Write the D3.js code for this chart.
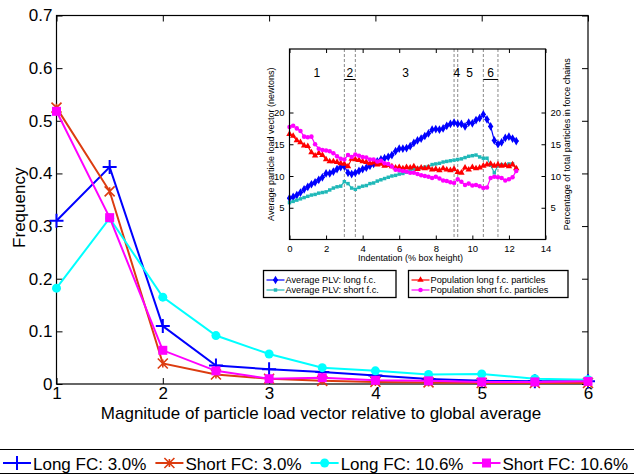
<!DOCTYPE html>
<html>
<head>
<meta charset="utf-8">
<script src="https://cdn.jsdelivr.net/npm/d3@7"></script>
<style>
  body { margin: 0; background: #fff; }
  svg { font-family: "Liberation Sans", Arial, sans-serif; }
</style>
</head>
<body>
<div id="chart"></div>
<script>
// main chart data
var magnitude = [1, 1.5, 2, 2.5, 3, 3.5, 4, 4.5, 5, 5.5, 6];
var longFC30 = [0.31, 0.412, 0.11, 0.035, 0.028, 0.023, 0.016, 0.0095, 0.006, 0.005, 0.005];
var shortFC30 = [0.525, 0.366, 0.039, 0.018, 0.010, 0.006, 0.004, 0.003, 0.002, 0.002, 0.002];
var longFC106 = [0.182, 0.315, 0.165, 0.092, 0.057, 0.031, 0.025, 0.018, 0.019, 0.010, 0.008];
var shortFC106 = [0.518, 0.316, 0.064, 0.025, 0.010, 0.012, 0.007, 0.006, 0.004, 0.004, 0.005];
var xTicks = [1, 2, 3, 4, 5, 6];
var yTicks = [0, 0.1, 0.2, 0.3, 0.4, 0.5, 0.6, 0.7];
var legendNames = ["Long FC: 3.0%", "Short FC: 3.0%", "Long FC: 10.6%", "Short FC: 10.6%"];

// inset data
var indent = [0, 0.2, 0.4, 0.6, 0.8, 1.0, 1.2, 1.4, 1.6, 1.8, 2.0, 2.2, 2.4, 2.6, 2.8, 3.0,
  3.2, 3.4, 3.6, 3.8, 4.0, 4.2, 4.4, 4.6, 4.8, 5.0, 5.2, 5.4, 5.6, 5.8, 6.0, 6.2, 6.4,
  6.6, 6.8, 7.0, 7.2, 7.4, 7.6, 7.8, 8.0, 8.2, 8.4, 8.6, 8.8, 9.0, 9.2, 9.4, 9.6, 9.8,
  10.0, 10.2, 10.4, 10.6, 10.8, 11.0, 11.2, 11.4, 11.6, 11.8, 12.0, 12.2, 12.4];
var plvLong = [6.5, 6.7, 7.0, 7.4, 7.9, 8.3, 8.7, 9.0, 9.4, 9.8, 10.4, 10.4, 10.7, 11.1, 11.4, 11.5,
  10.5, 10.3, 10.5, 10.8, 11.1, 11.3, 11.6, 11.9, 12.3, 12.6, 12.8, 13.0, 13.3, 13.9, 14.3, 14.3, 14.4,
  14.7, 15.2, 15.6, 15.9, 16.3, 16.7, 17.3, 17.4, 17.3, 17.5, 17.9, 18.2, 18.4, 18.2, 18.2, 17.8, 18.4,
  18.3, 18.8, 19.1, 19.7, 18.9, 17.8, 15.6, 15.0, 15.3, 16.0, 16.2, 15.9, 15.5];
var plvShort = [5.8, 6.0, 6.2, 6.4, 6.6, 6.8, 7.0, 7.1, 7.3, 7.4, 7.5, 7.8, 8.1, 8.3, 8.4, 9.1,
  8.8, 8.1, 7.9, 8.2, 8.4, 8.5, 8.8, 8.9, 9.2, 9.4, 9.6, 9.8, 10.0, 10.1, 10.3, 10.4, 10.6,
  10.9, 11.1, 11.2, 11.3, 11.4, 11.5, 11.8, 11.9, 12.0, 12.2, 12.3, 12.4, 12.5, 12.6, 12.7, 12.9, 13.1,
  13.2, 13.3, 13.0, 12.8, 12.8, 11.7, 10.5, 11.6, 11.8, 11.7, 11.9, 11.9, 11.2];
var popLong = [16.6, 16.3, 15.6, 15.3, 14.8, 14.7, 13.7, 13.2, 13.6, 13.3, 12.6, 12.3, 12.3, 12.2, 12.0, 11.9,
  11.5, 12.7, 12.6, 12.5, 12.3, 12.2, 12.0, 12.1, 11.8, 11.9, 11.6, 11.7, 11.5, 11.3, 11.4, 11.2, 11.4,
  11.3, 11.5, 11.1, 11.3, 11.2, 11.3, 11.0, 11.1, 10.9, 11.2, 11.0, 10.9, 11.1, 10.6, 10.5, 11.3, 11.0,
  11.4, 11.2, 11.3, 11.6, 11.8, 11.9, 11.6, 11.8, 11.6, 11.7, 11.5, 11.8, 11.2];
var popShort = [17.7, 17.9, 17.5, 17.1, 16.2, 16.1, 16.2, 15.0, 14.3, 14.1, 14.0, 13.9, 13.6, 13.1, 12.7, 12.6,
  13.3, 13.0, 13.4, 13.2, 13.0, 12.9, 12.6, 12.6, 12.3, 12.4, 12.0, 11.9, 11.5, 11.0, 10.9, 10.8, 10.7,
  10.5, 10.5, 10.3, 10.1, 10.0, 9.9, 9.7, 9.9, 9.6, 9.3, 9.2, 9.0, 8.9, 9.5, 9.1, 8.6, 8.8,
  8.5, 8.6, 8.4, 8.1, 8.2, 9.7, 9.9, 9.8, 9.7, 9.3, 9.5, 9.8, 10.8];
var phaseBounds = [3.0, 3.6, 9.0, 9.2, 10.6, 11.4];
var phaseLabels = ["1", "2", "3", "4", "5", "6"];
var phaseLabelX = [1.5, 3.3, 6.35, 9.15, 9.85, 11.0];
var insetXTicks = [0, 2, 4, 6, 8, 10, 12, 14];
var insetYTicks = [5, 10, 15, 20];
var insetLegendNames = ["Average PLV: long f.c.", "Average PLV: short f.c.",
  "Population long f.c. particles", "Population short f.c. particles"];

var svgWidth = 634;
var svgHeight = 475;

var margin = { top: 15.5, right: 46, bottom: 91, left: 56.5 };
var width = svgWidth - margin.left - margin.right;
var height = svgHeight - margin.top - margin.bottom;

var svg = d3.select("#chart")
  .append("svg")
  .attr("width", svgWidth)
  .attr("height", svgHeight);

var chartGroup = svg.append("g")
  .attr("transform", `translate(${margin.left}, ${margin.top})`);

var xScale = d3.scaleLinear().domain([1, 6]).range([0, width]);
var yScale = d3.scaleLinear().domain([0, 0.7]).range([height, 0]);

// axes, matlab style (ticks inside, box)
var tickLen = 6;
function styleAxis(g) {
  g.select(".domain").remove();
  g.selectAll(".tick line").attr("stroke", "#000");
  g.selectAll(".tick text").attr("fill", "#000");
}
chartGroup.append("g")
  .attr("transform", `translate(0, ${height})`)
  .call(d3.axisBottom(xScale).tickValues(xTicks).tickSizeInner(-tickLen).tickPadding(3).tickFormat(d3.format("d")))
  .call(styleAxis)
  .attr("font-size", 17).attr("font-family", null);
chartGroup.append("g")
  .call(d3.axisTop(xScale).tickValues(xTicks).tickSizeInner(-tickLen).tickFormat(""))
  .call(styleAxis);
chartGroup.append("g")
  .call(d3.axisLeft(yScale).tickValues(yTicks).tickSizeInner(-tickLen).tickPadding(4)
    .tickFormat(d => d === 0 ? "0" : d3.format(".1f")(d)))
  .call(styleAxis)
  .attr("font-size", 17).attr("font-family", null);
chartGroup.append("g")
  .attr("transform", `translate(${width}, 0)`)
  .call(d3.axisRight(yScale).tickValues(yTicks).tickSizeInner(-tickLen).tickFormat(""))
  .call(styleAxis);
chartGroup.append("rect")
  .attr("width", width).attr("height", height)
  .attr("fill", "none").attr("stroke", "#000").attr("stroke-width", 1.2);

// axis labels
svg.append("text")
  .attr("transform", `translate(25, ${margin.top + height / 2 + 8}) rotate(-90)`)
  .attr("text-anchor", "middle")
  .attr("font-size", 17)
  .text("Frequency");
svg.append("text")
  .attr("x", 321)
  .attr("y", 419)
  .attr("text-anchor", "middle")
  .attr("font-size", 17)
  .text("Magnitude of particle load vector relative to global average");

// series
var series = [
  { name: legendNames[0], values: longFC30, color: "#0000ff", marker: "plus" },
  { name: legendNames[1], values: shortFC30, color: "#dc3c10", marker: "star" },
  { name: legendNames[2], values: longFC106, color: "#00ffff", marker: "circle" },
  { name: legendNames[3], values: shortFC106, color: "#ff00ff", marker: "square" }
];

function drawMarker(g, type, color, cx, cy) {
  if (type === "plus") {
    g.append("path").attr("d", `M${cx - 7},${cy}H${cx + 7}M${cx},${cy - 7}V${cy + 7}`)
      .attr("stroke", color).attr("stroke-width", 2).attr("fill", "none");
  } else if (type === "star") {
    g.append("path").attr("d", `M${cx - 5},${cy - 5}L${cx + 5},${cy + 5}M${cx - 5},${cy + 5}L${cx + 5},${cy - 5}M${cx},${cy - 4}V${cy + 4}`)
      .attr("stroke", color).attr("stroke-width", 1.6).attr("fill", "none");
  } else if (type === "circle") {
    g.append("circle").attr("cx", cx).attr("cy", cy).attr("r", 4.5).attr("fill", color);
  } else if (type === "square") {
    g.append("rect").attr("x", cx - 4.5).attr("y", cy - 4.5).attr("width", 9).attr("height", 9).attr("fill", color);
  }
}

var line = d3.line()
  .x((d, i) => xScale(magnitude[i]))
  .y(d => yScale(d));

series.forEach(function(s) {
  var g = chartGroup.append("g");
  g.append("path")
    .attr("d", line(s.values))
    .attr("fill", "none")
    .attr("stroke", s.color)
    .attr("stroke-width", 2);
  s.values.forEach(function(v, i) {
    drawMarker(g, s.marker, s.color, xScale(magnitude[i]), yScale(v));
  });
});

// bottom legend
var legendGroup = svg.append("g");
legendGroup.append("rect")
  .attr("x", -2).attr("y", 449.5).attr("width", svgWidth + 4).attr("height", 24)
  .attr("fill", "#fff").attr("stroke", "#000").attr("stroke-width", 1);
var lx = 3;
series.forEach(function(s) {
  var item = legendGroup.append("g");
  item.append("line")
    .attr("x1", lx).attr("x2", lx + 28).attr("y1", 463).attr("y2", 463)
    .attr("stroke", s.color).attr("stroke-width", 2);
  drawMarker(item, s.marker, s.color, lx + 14, 463);
  var t = item.append("text")
    .attr("x", lx + 30).attr("y", 469.5)
    .attr("font-size", 17)
    .text(s.name);
  lx = lx + 30 + t.node().getComputedTextLength() + 9;
});

// ---------------- inset ----------------
var inset = { left: 289.5, top: 49, right: 545.5, bottom: 239.5 };
var iw = inset.right - inset.left;
var ih = inset.bottom - inset.top;
var insetGroup = svg.append("g")
  .attr("transform", `translate(${inset.left}, ${inset.top})`);

var ixScale = d3.scaleLinear().domain([0, 14]).range([0, iw]);
var iyScale = d3.scaleLinear().domain([0, 30]).range([ih, 0]);

insetGroup.append("rect")
  .attr("width", iw).attr("height", ih).attr("fill", "#fff");

var iTick = 4;
insetGroup.append("g")
  .attr("transform", `translate(0, ${ih})`)
  .call(d3.axisBottom(ixScale).tickValues(insetXTicks).tickSizeInner(-iTick).tickPadding(6))
  .call(styleAxis)
  .attr("font-size", 9.5).attr("font-family", null);
insetGroup.append("g")
  .call(d3.axisTop(ixScale).tickValues(insetXTicks).tickSizeInner(-iTick).tickFormat(""))
  .call(styleAxis);
insetGroup.append("g")
  .call(d3.axisLeft(iyScale).tickValues(insetYTicks).tickSizeInner(-iTick).tickPadding(5))
  .call(styleAxis)
  .attr("font-size", 9.5).attr("font-family", null);
insetGroup.append("g")
  .attr("transform", `translate(${iw}, 0)`)
  .call(d3.axisRight(iyScale).tickValues(insetYTicks).tickSizeInner(-iTick).tickPadding(5))
  .call(styleAxis)
  .attr("font-size", 9.5).attr("font-family", null);

// phase boundaries
phaseBounds.forEach(function(b) {
  insetGroup.append("line")
    .attr("x1", ixScale(b)).attr("x2", ixScale(b))
    .attr("y1", 0).attr("y2", ih)
    .attr("stroke", "#888").attr("stroke-width", 1)
    .attr("stroke-dasharray", "3,2");
});
phaseLabels.forEach(function(p, i) {
  insetGroup.append("text")
    .attr("x", ixScale(phaseLabelX[i]))
    .attr("y", iyScale(26.3) + 4.5)
    .attr("text-anchor", "middle")
    .attr("font-size", 12)
    .text(p);
});
[[3.0, 3.6], [10.6, 11.4]].forEach(function(u) {
  insetGroup.append("line")
    .attr("x1", ixScale(u[0])).attr("x2", ixScale(u[1]))
    .attr("y1", iyScale(25.2)).attr("y2", iyScale(25.2))
    .attr("stroke", "#000").attr("stroke-width", 1);
});

var insetSeries = [
  { name: insetLegendNames[0], values: plvLong, color: "#0000ff", marker: "diamond" },
  { name: insetLegendNames[1], values: plvShort, color: "#20b8b8", marker: "square" },
  { name: insetLegendNames[2], values: popLong, color: "#ff0000", marker: "triangle" },
  { name: insetLegendNames[3], values: popShort, color: "#ff00ff", marker: "circle" }
];

function drawSmallMarker(g, type, color, cx, cy) {
  var sym = { diamond: d3.symbolDiamond, square: d3.symbolSquare, triangle: d3.symbolTriangle, circle: d3.symbolCircle }[type];
  var size = { diamond: 22, square: 12, triangle: 18, circle: 16 }[type];
  g.append("path")
    .attr("transform", `translate(${cx}, ${cy})`)
    .attr("d", d3.symbol().type(sym).size(size)())
    .attr("fill", color);
  if (type === "diamond") {
    g.append("path")
      .attr("d", `M${cx - 2.5},${cy}H${cx + 2.5}`)
      .attr("stroke", color).attr("stroke-width", 1.2);
  }
}

var iline = d3.line()
  .x((d, i) => ixScale(indent[i]))
  .y(d => iyScale(d));

insetSeries.forEach(function(s) {
  var g = insetGroup.append("g");
  g.append("path")
    .attr("d", iline(s.values))
    .attr("fill", "none")
    .attr("stroke", s.color)
    .attr("stroke-width", 1.2);
  s.values.forEach(function(v, i) {
    drawSmallMarker(g, s.marker, s.color, ixScale(indent[i]), iyScale(v));
  });
});

insetGroup.append("rect")
  .attr("width", iw).attr("height", ih)
  .attr("fill", "none").attr("stroke", "#000").attr("stroke-width", 1.2);

// inset labels
svg.append("text")
  .attr("x", inset.left + iw / 2 - 7)
  .attr("y", 261)
  .attr("text-anchor", "middle")
  .attr("font-size", 9)
  .text("Indentation (% box height)");
svg.append("text")
  .attr("transform", `translate(273.5, ${inset.top + ih / 2}) rotate(-90)`)
  .attr("text-anchor", "middle")
  .attr("font-size", 9)
  .text("Average particle load vector (newtons)");
svg.append("text")
  .attr("transform", `translate(570, ${inset.top + ih / 2}) rotate(-90)`)
  .attr("text-anchor", "middle")
  .attr("font-size", 9)
  .text("Percentage of total particles in force chains");

// inset legends
var boxes = [
  { x: 263.5, w: 132.5, items: [insetSeries[0], insetSeries[1]] },
  { x: 408.5, w: 159.5, items: [insetSeries[2], insetSeries[3]] }
];
boxes.forEach(function(b) {
  var g = svg.append("g");
  g.append("rect")
    .attr("x", b.x).attr("y", 270.5).attr("width", b.w).attr("height", 27)
    .attr("fill", "#fff").attr("stroke", "#000").attr("stroke-width", 1.3);
  b.items.forEach(function(s, i) {
    var yy = 280 + i * 10;
    g.append("line")
      .attr("x1", b.x + 3).attr("x2", b.x + 21)
      .attr("y1", yy).attr("y2", yy)
      .attr("stroke", s.color).attr("stroke-width", 1.2);
    drawSmallMarker(g, s.marker, s.color, b.x + 12, yy);
    g.append("text")
      .attr("x", b.x + 22).attr("y", yy + 3.3)
      .attr("font-size", 9.2)
      .text(s.name);
  });
});
</script>
</body>
</html>
